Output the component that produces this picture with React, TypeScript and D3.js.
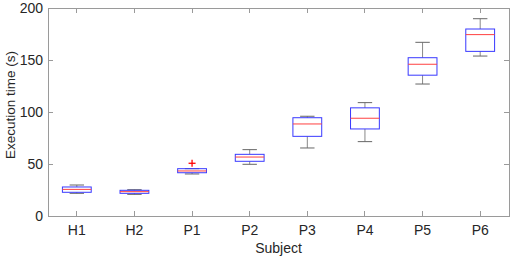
import React from "react";
import * as d3 from "d3";

const categories = ["H1", "H2", "P1", "P2", "P3", "P4", "P5", "P6"];
const lowerWhisker = [21.8, 20.8, 40.4, 49.7, 65.4, 71.5, 126.9, 153.8];
const q1 = [22.8, 21.8, 41.6, 52.6, 76.6, 83.7, 135.4, 158.3];
const median = [25.6, 23.4, 43.3, 56.7, 88.5, 94, 145.9, 174.4];
const q3 = [27.9, 24.7, 45.5, 59.3, 94.5, 104, 152.2, 179.8];
const upperWhisker = [29.8, 25.3, 45.5, 63.8, 95.9, 109, 167, 189.7];
const outliers = [{ cat: "P1", value: 50.7 }];
const yTicks = [0, 50, 100, 150, 200];

const W = 517, H = 260;
const left = 48, right = 509, top = 8, bottom = 216;

export default function App() {
  const x = d3.scaleBand<string>().domain(categories).range([left, right]).padding(0);
  const y = d3.scaleLinear().domain([0, 200]).range([bottom, top]);
  const bw = x.bandwidth();
  const boxW = bw * 0.5;
  const capW = boxW * 0.5;
  const cx = (c: string) => (x(c) as number) + bw / 2;
  const font = "'Liberation Sans', Arial, sans-serif";
  const axisColor = "#9a9a9a";
  const tl = 5;

  return (
    <svg width={W} height={H} style={{ position: "absolute", left: 0, top: 0 }} fontFamily={font}>
      <rect x={0} y={0} width={W} height={H} fill="#fff" />
      <rect x={left} y={top} width={right - left} height={bottom - top} fill="none" stroke={axisColor} strokeWidth={1} shapeRendering="crispEdges" />
      {categories.map((c) => (
        <g key={"xt" + c}>
          <line x1={cx(c)} x2={cx(c)} y1={bottom} y2={bottom - tl} stroke={axisColor} shapeRendering="crispEdges" />
          <line x1={cx(c)} x2={cx(c)} y1={top} y2={top + tl} stroke={axisColor} shapeRendering="crispEdges" />
          <text x={cx(c)} y={235} fontSize={14} textAnchor="middle" fill="#262626">{c}</text>
        </g>
      ))}
      {yTicks.map((t) => (
        <g key={"yt" + t}>
          <line x1={left} x2={left + tl} y1={y(t)} y2={y(t)} stroke={axisColor} shapeRendering="crispEdges" />
          <line x1={right} x2={right - tl} y1={y(t)} y2={y(t)} stroke={axisColor} shapeRendering="crispEdges" />
          <text x={43} y={y(t)} dy="0.35em" fontSize={14} textAnchor="end" fill="#262626">{t}</text>
        </g>
      ))}
      {categories.map((c, i) => {
        const xc = cx(c);
        return (
          <g key={"b" + c}>
            <line x1={xc} x2={xc} y1={y(upperWhisker[i])} y2={y(q3[i])} stroke="#888" />
            <line x1={xc} x2={xc} y1={y(q1[i])} y2={y(lowerWhisker[i])} stroke="#888" />
            <line x1={xc - capW / 2} x2={xc + capW / 2} y1={y(upperWhisker[i])} y2={y(upperWhisker[i])} stroke="#666" />
            <line x1={xc - capW / 2} x2={xc + capW / 2} y1={y(lowerWhisker[i])} y2={y(lowerWhisker[i])} stroke="#666" />
            <rect x={xc - boxW / 2} y={y(q3[i])} width={boxW} height={y(q1[i]) - y(q3[i])} fill="none" stroke="#3838ff" strokeWidth={1} />
            <line x1={xc - boxW / 2} x2={xc + boxW / 2} y1={y(median[i])} y2={y(median[i])} stroke="#ff4040" strokeWidth={1} />
          </g>
        );
      })}
      {outliers.map((o, i) => {
        const xc = cx(o.cat);
        const yc = y(o.value);
        return (
          <g key={"o" + i} stroke="#ff0000" strokeWidth={1.3}>
            <line x1={xc - 3.5} x2={xc + 3.5} y1={yc} y2={yc} />
            <line x1={xc} x2={xc} y1={yc - 3.5} y2={yc + 3.5} />
          </g>
        );
      })}
      <text x={(left + right) / 2} y={253} fontSize={14} textAnchor="middle" fill="#262626">Subject</text>
      <text transform={`translate(15, 105) rotate(-90)`} fontSize={13.5} textAnchor="middle" fill="#262626">Execution time (s)</text>
    </svg>
  );
}
